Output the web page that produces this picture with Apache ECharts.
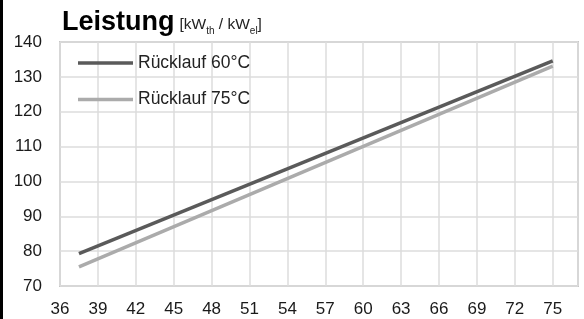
<!DOCTYPE html>
<html>
<head>
<meta charset="utf-8">
<script src="https://cdn.jsdelivr.net/npm/echarts@6/dist/echarts.min.js"></script>
<style>
html, body { margin: 0; padding: 0; background: #fff; }
#chart { width: 584px; height: 319px; border-left: 3px solid #000; box-sizing: border-box; }
</style>
</head>
<body>
<div id="chart"></div>
<script>
// Daten
var seriesNames = ['Rücklauf 60°C', 'Rücklauf 75°C'];
var vorlauf = [37.5, 75];
var ruecklauf60 = [79.3, 134.6];
var ruecklauf75 = [75.5, 133.1];

function pairs(xs, ys) {
	var out = [];
	for (var i = 0; i < xs.length; i++) out.push([xs[i], ys[i]]);
	return out;
}

var font = 'Liberation Sans';
var chart = echarts.init(document.getElementById('chart'));
chart.setOption({
	animation : false,
	textStyle : { fontFamily : font },
	title : {
		text : '{b|Leistung} {n|[kW}{s|th}{n| / kW}{s|el}{n|]}',
		left : 59,
		top : 6,
		padding : 0,
		textStyle : {
			fontWeight : 'normal',
			rich : {
				b : { fontFamily : font, fontSize : 27, fontWeight : 'bold', color : '#000', lineHeight : 30, verticalAlign : 'bottom' },
				n : { fontFamily : font, fontSize : 15.5, fontWeight : 'normal', color : '#222', lineHeight : 30, verticalAlign : 'bottom', padding : [0, 0, 3, 0] },
				s : { fontFamily : font, fontSize : 10, fontWeight : 'normal', color : '#222', lineHeight : 30, verticalAlign : 'bottom' }
			}
		}
	},
	legend : {
		orient : 'vertical',
		left : 75,
		top : 54,
		padding : 0,
		icon : 'rect',
		itemWidth : 55,
		itemHeight : 3.5,
		itemGap : 18.5,
		textStyle : { fontFamily : font, fontSize : 17.5, color : '#222', lineHeight : 18 },
		data : seriesNames
	},
	grid : {
		left : 57,
		right : 6,
		top : 42,
		bottom : 33,
		show : true,
		borderColor : '#c6c6c6',
		borderWidth : 2
	},
	xAxis : {
		type : 'value',
		min : 36,
		max : 77,
		interval : 3,
		axisLine : { show : false },
		axisTick : { show : false },
		axisLabel : { margin : 15, fontSize : 17, color : '#1a1a1a', showMaxLabel : false },
		splitLine : { lineStyle : { color : '#dcdcdc', width : 1.5 } }
	},
	yAxis : {
		type : 'value',
		min : 70,
		max : 140,
		interval : 10,
		axisLine : { show : false },
		axisTick : { show : false },
		axisLabel : { margin : 18, fontSize : 17, color : '#1a1a1a' },
		splitLine : { lineStyle : { color : '#dcdcdc', width : 1.5 } }
	},
	series : [ {
		name : seriesNames[0],
		type : 'line',
		symbol : 'none',
		lineStyle : { color : '#5a5a5a', width : 3.5 },
		itemStyle : { color : '#5a5a5a' },
		data : pairs(vorlauf, ruecklauf60)
	}, {
		name : seriesNames[1],
		type : 'line',
		symbol : 'none',
		lineStyle : { color : '#ababab', width : 3.5 },
		itemStyle : { color : '#ababab' },
		data : pairs(vorlauf, ruecklauf75)
	} ]
});
</script>
</body>
</html>
